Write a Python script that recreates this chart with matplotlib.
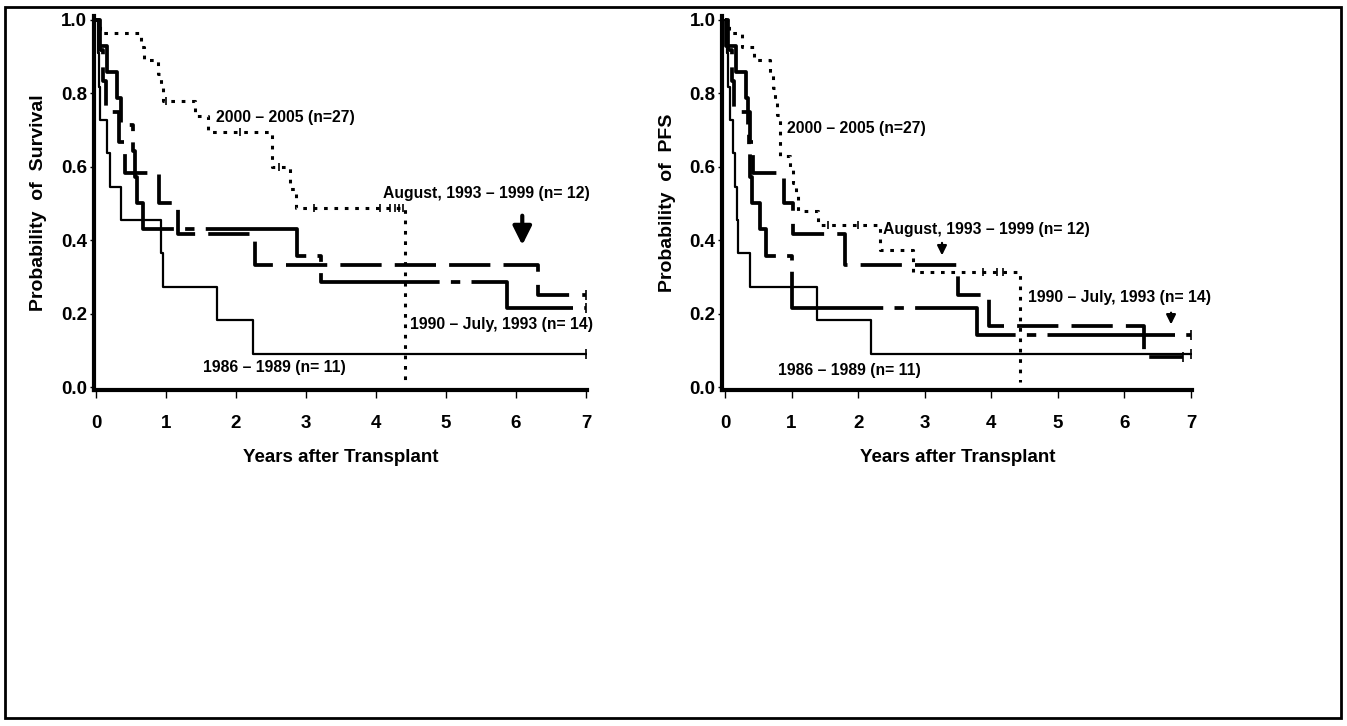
import matplotlib
matplotlib.use('Agg')
import matplotlib.pyplot as plt
from matplotlib.patches import Rectangle

plt.rcParams['font.family'] = ['Liberation Sans', 'DejaVu Sans']

# ---- Survival (left panel) ----
s86_t = [0, 0.03, 0.045, 0.06, 0.16, 0.2, 0.36, 0.93, 0.96, 1.73, 2.24, 7.0]
s86_p = [1.0, 0.909, 0.818, 0.727, 0.636, 0.545, 0.455, 0.364, 0.273, 0.182, 0.091, 0.091]

s90_t = [0, 0.04, 0.16, 0.3, 0.36, 0.53, 0.56, 0.59, 0.67, 2.87, 3.22, 5.87, 7.0]
s90_p = [1.0, 0.929, 0.857, 0.786, 0.714, 0.643, 0.571, 0.5, 0.429, 0.357, 0.286, 0.214, 0.214]

s93_t = [0, 0.05, 0.1, 0.14, 0.33, 0.41, 0.9, 1.17, 2.27, 6.31, 7.0]
s93_p = [1.0, 0.917, 0.833, 0.75, 0.667, 0.583, 0.5, 0.417, 0.333, 0.25, 0.25]

s00_t = [0, 0.05, 0.64, 0.68, 0.89, 0.93, 0.96, 1.42, 1.6, 2.52, 2.77, 2.85, 4.42, 4.42]
s00_p = [1.0, 0.963, 0.926, 0.889, 0.852, 0.815, 0.778, 0.737, 0.695, 0.6, 0.54, 0.487, 0.487, 0.01]
s00_cens_t = [1.0, 2.05, 2.62, 3.12, 4.05, 4.2, 4.27, 4.33, 4.38]
s00_cens_p = [0.778, 0.695, 0.6, 0.487, 0.487, 0.487, 0.487, 0.487, 0.487]

# ---- PFS (right panel) ----
p86_t = [0, 0.03, 0.05, 0.08, 0.12, 0.15, 0.18, 0.2, 0.375, 1.38, 2.2, 7.0]
p86_p = [1.0, 0.909, 0.818, 0.727, 0.636, 0.545, 0.455, 0.364, 0.273, 0.182, 0.091, 0.091]

p90_t = [0, 0.02, 0.16, 0.31, 0.34, 0.36, 0.38, 0.41, 0.52, 0.61, 1.0, 3.78, 7.0]
p90_p = [1.0, 0.929, 0.857, 0.786, 0.714, 0.643, 0.571, 0.5, 0.429, 0.357, 0.214, 0.143, 0.143]

p93_t = [0, 0.05, 0.1, 0.14, 0.38, 0.42, 0.88, 1.02, 1.81, 3.5, 3.96, 6.3, 6.88]
p93_p = [1.0, 0.917, 0.833, 0.75, 0.667, 0.583, 0.5, 0.417, 0.333, 0.25, 0.167, 0.083, 0.083]

p00_t = [0, 0.06, 0.25, 0.43, 0.68, 0.72, 0.75, 0.78, 0.82, 0.98, 1.02, 1.06, 1.1, 1.4, 2.33, 2.83, 4.43, 4.43]
p00_p = [1.0, 0.963, 0.926, 0.889, 0.852, 0.815, 0.778, 0.741, 0.63, 0.593, 0.556, 0.519, 0.478, 0.44, 0.373, 0.314, 0.314, 0.014]
p00_cens_t = [1.55, 2.0, 3.88, 4.09, 4.17]
p00_cens_p = [0.44, 0.44, 0.314, 0.314, 0.314]

labels = ['1986 \u2013 1989 (n= 11)', '1990 \u2013 July, 1993 (n= 14)',
          'August, 1993 \u2013 1999 (n= 12)', '2000 \u2013 2005 (n=27)']
surv_label_pos = [(1.53, 0.052), (4.48, 0.169), (4.1, 0.528), (1.71, 0.735)]
pfs_label_pos = [(0.8, 0.046), (4.55, 0.245), (2.37, 0.428), (0.93, 0.705)]

xticks = [0, 1, 2, 3, 4, 5, 6, 7]
yticks = [0.0, 0.2, 0.4, 0.6, 0.8, 1.0]

fig = plt.figure(figsize=(13.47, 7.26), dpi=100)
fig.patches.append(Rectangle((5 / 1347, 8 / 726), 1336 / 1347, 711 / 726,
                             transform=fig.transFigure, fill=False,
                             edgecolor='black', linewidth=2))

ax1 = fig.add_axes([94 / 1347, 1 - 390 / 726, 493 / 1347, 374 / 726])
ax2 = fig.add_axes([722.5 / 1347, 1 - 390 / 726, 469.5 / 1347, 374 / 726])

style_thin = dict(color='black', linewidth=1.6, linestyle='-')
style_dd = dict(color='black', linewidth=2.7, linestyle=(0, (34, 3, 2.5, 3)))
style_dash = dict(color='black', linewidth=2.7, linestyle=(0, (11, 3.5)))
style_dot = dict(color='black', linewidth=2.2, linestyle=(0, (1.2, 2.2)))


def draw_panel(ax, c86, c90, c93, c00, cens, label_pos, ylabel):
    ax.step(c86[0], c86[1], where='post', **style_thin)
    ax.step(c90[0], c90[1], where='post', **style_dd)
    ax.step(c93[0], c93[1], where='post', **style_dash)
    ax.step(c00[0], c00[1], where='post', **style_dot)
    ax.plot(cens[0], cens[1], linestyle='none', marker='|', markersize=6,
            markeredgewidth=1.2, color='black')
    # end-of-follow-up censor ticks
    ends_t = [c86[0][-1], c90[0][-1], c93[0][-1]]
    ends_p = [c86[1][-1], c90[1][-1], c93[1][-1]]
    ax.plot(ends_t, ends_p, linestyle='none', marker='|', markersize=7,
            markeredgewidth=1.2, color='black')
    for lab, (x, y) in zip(labels, label_pos):
        ax.text(x, y, lab, fontsize=11.3, fontweight='bold', ha='left', va='center')

    ax.set_xlim(-0.03 if ax is ax1 else -0.037, 7.015)
    ax.set_ylim(-0.008, 1.01)
    ax.set_xticks(xticks)
    ax.set_xticklabels([str(v) for v in xticks])
    ax.set_yticks(yticks)
    ax.set_yticklabels(['%.1f' % v for v in yticks])
    for s in ['top', 'right']:
        ax.spines[s].set_visible(False)
    for s in ['left', 'bottom']:
        ax.spines[s].set_linewidth(3)
    ax.tick_params(axis='x', length=6, width=1, pad=12, labelsize=13.5)
    ax.tick_params(axis='y', length=3, width=1, pad=2, labelsize=13.5)
    for t in ax.get_xticklabels() + ax.get_yticklabels():
        t.set_fontweight('bold')
    ax.set_xlabel('Years after Transplant', fontsize=13.5, fontweight='bold', labelpad=12)
    ax.set_ylabel(ylabel, fontsize=14, fontweight='bold', labelpad=10)


draw_panel(ax1, (s86_t, s86_p), (s90_t, s90_p), (s93_t, s93_p), (s00_t, s00_p),
           (s00_cens_t, s00_cens_p), surv_label_pos, 'Probability  of  Survival')
draw_panel(ax2, (p86_t, p86_p), (p90_t, p90_p), (p93_t, p93_p), (p00_t, p00_p),
           (p00_cens_t, p00_cens_p), pfs_label_pos, 'Probability  of  PFS')

ax1.annotate('', xy=(6.09, 0.379), xytext=(6.09, 0.474),
             arrowprops=dict(arrowstyle='-|>', color='black', lw=3, mutation_scale=28))
ax2.annotate('', xy=(3.26, 0.351), xytext=(3.26, 0.40),
             arrowprops=dict(arrowstyle='-|>', color='black', lw=1.6, mutation_scale=14))
ax2.annotate('', xy=(6.7, 0.163), xytext=(6.7, 0.21),
             arrowprops=dict(arrowstyle='-|>', color='black', lw=1.6, mutation_scale=14))

fig.savefig('out.png', dpi=100)
